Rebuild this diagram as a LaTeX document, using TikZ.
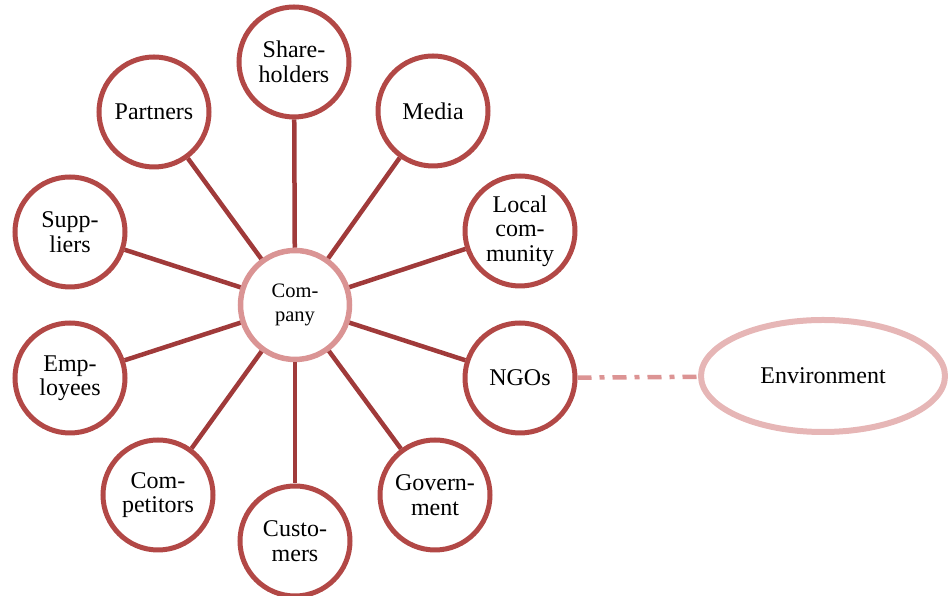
\documentclass[tikz,border=0pt]{standalone}
\usepackage{fontspec}
\setmainfont{Liberation Serif}
\usetikzlibrary{shapes.geometric}

\definecolor{ringred}{RGB}{178,72,70}
\definecolor{spokered}{RGB}{160,58,58}
\definecolor{hubpink}{RGB}{218,148,148}
\definecolor{envpink}{RGB}{230,182,182}
\definecolor{dashpink}{RGB}{220,148,148}

\begin{document}
\begin{tikzpicture}[
    x=1pt,y=1pt,
    party/.style={
      draw=ringred,line width=5pt,circle,fill=white,inner sep=0pt,
      minimum size=110pt,align=center,font=\fontsize{24}{24.5}\selectfont
    },
    hub/.style={
      draw=hubpink,line width=5.5pt,circle,fill=white,inner sep=0pt,
      minimum size=109pt,align=center,font=\fontsize{20.5}{23.5}\selectfont
    },
    spoke/.style={draw=spokered,line width=4.5pt}
  ]
  \useasboundingbox (0,0) rectangle (948,596);

  \node (company) [hub] at (295,291) {Com-\\pany};

  \node (share)    [party] at (294,534) {Share-\\holders};
  \node (partners) [party] at (154,484) {Partners};
  \node (media)    [party] at (433,485) {Media};
  \node (local)    [party] at (520,365) {Local\\com-\\munity};
  \node (ngos)     [party] at (520,218) {NGOs};
  \node (gov)      [party] at (435,101) {Govern-\\ment};
  \node (cust)     [party] at (295,55)  {Custo-\\mers};
  \node (comp)     [party] at (158,101) {Com-\\petitors};
  \node (emp)      [party] at (70,218)  {Emp-\\loyees};
  \node (supp)     [party] at (70,364)  {Supp-\\liers};

  \node (env) [ellipse,draw=envpink,line width=6pt,minimum width=244pt,
    minimum height=112pt,font=\fontsize{24}{24.5}\selectfont] at (823,220) {Environment};

  % spokes
  \foreach \p in {share,partners,media,local,ngos,gov,cust,comp,emp,supp} {
    \draw [spoke] (company) -- (\p);
  }

  \draw [draw=dashpink,line width=4.5pt,dash pattern=on 14pt off 8pt on 5pt off 8pt]
    (ngos) -- (env);
\end{tikzpicture}
\end{document}
